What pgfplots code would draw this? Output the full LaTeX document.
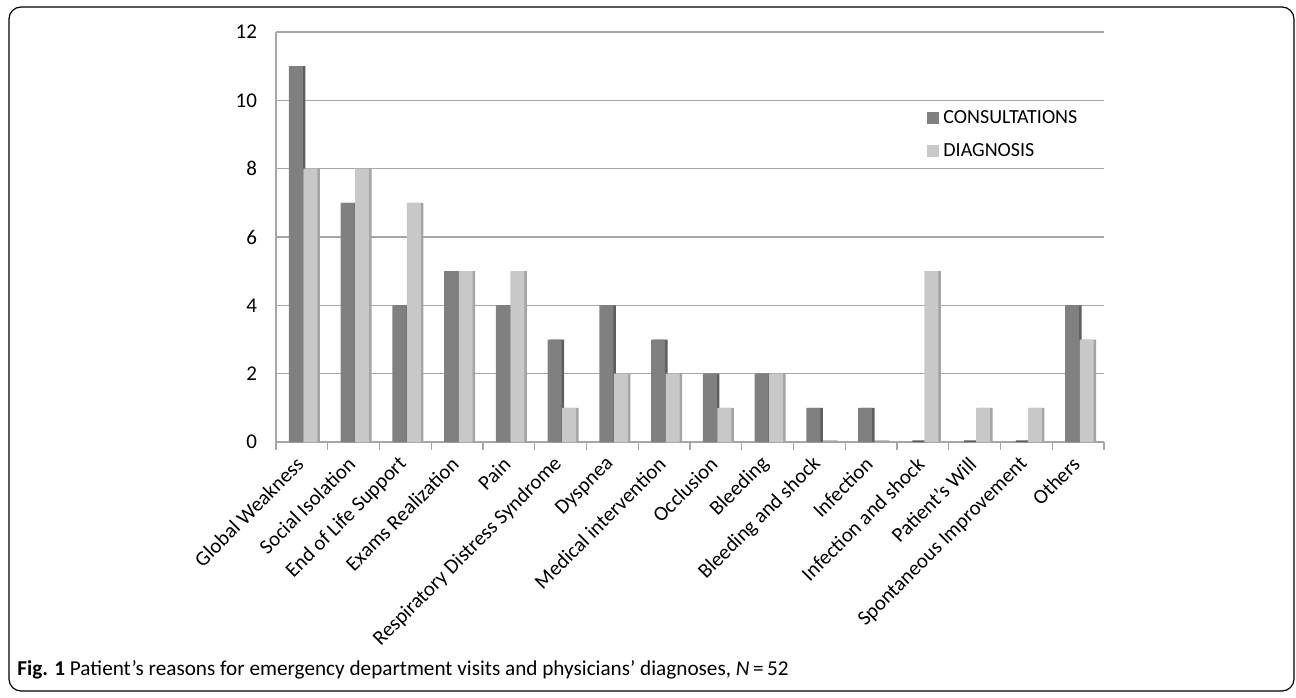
\documentclass[border=0pt]{standalone}
\usepackage{fontspec}
\setmainfont{Carlito}
\usepackage{pgfplots}
\pgfplotsset{compat=1.18}
\definecolor{consult}{HTML}{808080}
\definecolor{consultside}{HTML}{5E5E5E}
\definecolor{diag}{HTML}{C8C8C8}
\definecolor{diagside}{HTML}{A4A4A4}
\definecolor{axgray}{HTML}{A6A6A6}
\begin{document}
\begin{tikzpicture}
% page = 1296x697 px, 1 px = 0.5 pt
\useasboundingbox (0,0) rectangle (648pt,348.5pt);
\draw[rounded corners=6pt, line width=0.6pt, black] (4.5pt,3pt) rectangle (647pt,345pt);
\begin{axis}[
    at={(138pt,127.5pt)}, anchor=south west,
    scale only axis, width=414pt, height=205pt,
    xmin=-0.5, xmax=15.5, ymin=0, ymax=12,
    ytick={0,2,...,12},
    xtick={0,...,15},
    xticklabels={Global Weakness, Social Isolation, End of Life Support, Exams Realization, Pain, Respiratory Distress Syndrome, Dyspnea, Medical intervention, Occlusion, Bleeding, Bleeding and shock, Infection, Infection and shock, Patient's Will, Spontaneous Improvement, Others},
    major tick length=0pt,
    extra x ticks={-0.5,0.5,...,15.5},
    extra x tick labels={},
    extra x tick style={major tick length=4pt, tick align=outside, grid=none, tick style={axgray, line width=0.6pt}},
    x tick label style={yshift=-7pt, xshift=1.5pt, rotate=45, anchor=east, font=\fontsize{10.4}{12}\selectfont},
    y tick label style={font=\fontsize{10.5}{12}\selectfont, xshift=-6pt},
    /pgf/number format/assume math mode=true,
    ymajorgrids, grid style={axgray, line width=0.7pt},
    axis x line*=bottom, axis y line*=left,
    axis line style={axgray, line width=0.7pt},
    bar width=7pt,
    legend style={draw=none, fill=none, at={(0.779,0.83)}, anchor=north west,
        font=\fontsize{10}{12}\selectfont, row sep=4.5pt,
        legend cell align=left},
    legend image code/.code={\fill[#1] (0pt,-3pt) rectangle (6pt,3pt);},
]
% side faces (3D look)
\addplot[ybar, bar shift=-1.75pt, fill=consultside, draw=none, forget plot] coordinates {
(0,11) (1,7) (2,4) (3,5) (4,4) (5,3) (6,4) (7,3) (8,2) (9,2) (10,1) (11,1) (12,0.05) (13,0.05) (14,0.05) (15,4)};
\addplot[ybar, bar shift=5.5pt, fill=diagside, draw=none, forget plot] coordinates {
(0,8) (1,8) (2,7) (3,5) (4,5) (5,1) (6,2) (7,2) (8,1) (9,2) (10,0.05) (11,0.05) (12,5) (13,1) (14,1) (15,3)};
% front faces
\addplot[ybar, bar shift=-3pt, fill=consult, draw=none] coordinates {
(0,11) (1,7) (2,4) (3,5) (4,4) (5,3) (6,4) (7,3) (8,2) (9,2) (10,1) (11,1) (12,0) (13,0) (14,0) (15,4)};
\addplot[ybar, bar shift=4.25pt, fill=diag, draw=none] coordinates {
(0,8) (1,8) (2,7) (3,5) (4,5) (5,1) (6,2) (7,2) (8,1) (9,2) (10,0) (11,0) (12,5) (13,1) (14,1) (15,3)};
\legend{CONSULTATIONS, DIAGNOSIS}
\end{axis}
\node[anchor=base west, inner sep=0pt, font=\fontsize{10.6}{12}\selectfont] at (8.5pt,11pt)
  {\textbf{Fig. 1} Patient’s reasons for emergency department visits and physicians’ diagnoses, \textit{N}\,=\,52};
\end{tikzpicture}
\end{document}
